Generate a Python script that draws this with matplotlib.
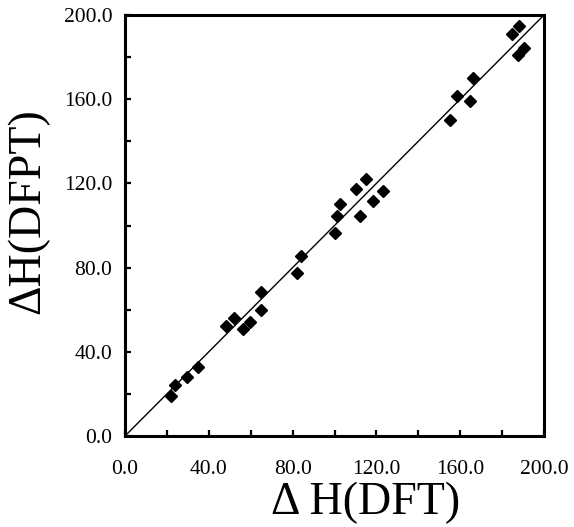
import matplotlib
matplotlib.use("Agg")
import matplotlib.pyplot as plt
from matplotlib.ticker import MultipleLocator, FormatStrFormatter

# values
dft = [21.9, 23.7, 29.6, 34.7, 48.2, 52.0, 56.1, 59.5, 65.0, 65.0,
       82.2, 83.8, 100.3, 101.1, 102.7, 110.3, 115.1, 112.4, 118.6, 123.2,
       155.0, 158.5, 164.5, 166.3, 184.6, 188.1, 187.4, 190.3]
dfpt = [19.0, 24.2, 27.9, 32.9, 52.4, 56.1, 50.7, 54.3, 68.3, 60.0,
        77.6, 85.7, 96.4, 104.5, 110.4, 117.3, 122.1, 104.5, 111.8, 116.4,
        150.3, 161.4, 159.3, 170.1, 190.8, 194.6, 181.0, 184.5]
diag = [0.0, 200.0]

plt.rcParams['font.family'] = ['Liberation Serif', 'DejaVu Serif']

fig = plt.figure(figsize=(5.74, 5.27), dpi=100)
ax = fig.add_axes([125 / 574, 91 / 527, 419 / 574, 421 / 527])

ax.plot(diag, diag, color='black', lw=1.0)
ax.plot(dft, dfpt, 'D', color='black', markersize=5.8, linestyle='none')

ax.set_xlim(0, 200)
ax.set_ylim(0, 200)
ax.xaxis.set_major_locator(MultipleLocator(40))
ax.yaxis.set_major_locator(MultipleLocator(40))
ax.xaxis.set_minor_locator(MultipleLocator(20))
ax.yaxis.set_minor_locator(MultipleLocator(20))
ax.xaxis.set_major_formatter(FormatStrFormatter('%.1f'))
ax.yaxis.set_major_formatter(FormatStrFormatter('%.1f'))

for s in ax.spines.values():
    s.set_linewidth(2.2)
ax.tick_params(which='both', direction='in', length=4.5, width=1.6,
               top=False, right=False)
ax.tick_params(axis='x', which='major', labelsize=15.5, pad=17)
ax.tick_params(axis='y', which='major', labelsize=15.5, pad=9)

fig.text(366 / 574, 1 - 503 / 527, '\u0394 H(DFT)', fontsize=33,
         ha='center', va='center')
fig.text(28 / 574, 1 - 211 / 527, '\u0394H(DFPT)', fontsize=33,
         ha='center', va='center', rotation=90)

fig.savefig('out.png', dpi=100)
